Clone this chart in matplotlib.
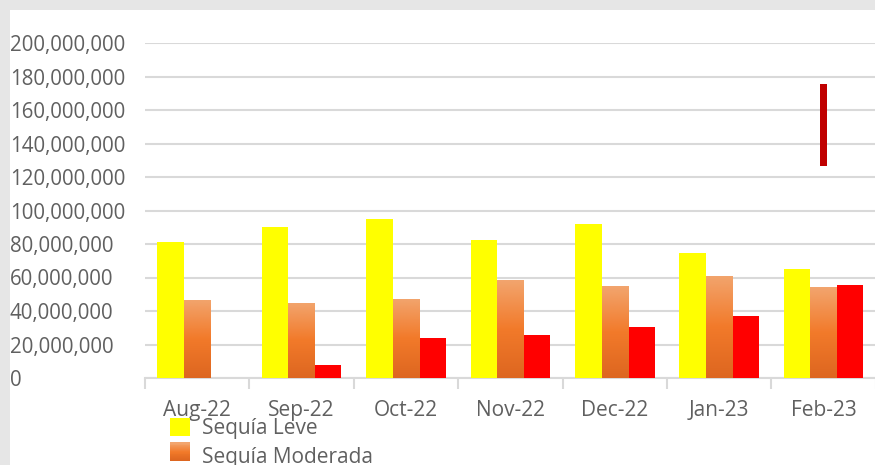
import matplotlib
matplotlib.use("Agg")
import matplotlib.pyplot as plt
import numpy as np
from matplotlib.colors import LinearSegmentedColormap
from matplotlib.patches import Rectangle
from matplotlib.legend_handler import HandlerBase
from matplotlib.ticker import FuncFormatter, FixedLocator

categories = ["Aug-22", "Sep-22", "Oct-22", "Nov-22", "Dec-22", "Jan-23", "Feb-23"]
leve = [81.2e6, 90.1e6, 94.9e6, 82.4e6, 91.9e6, 74.6e6, 65.1e6]
moderada = [46.6e6, 44.8e6, 47.2e6, 58.5e6, 54.9e6, 60.9e6, 54.3e6]
severa = [0, 7.8e6, 23.9e6, 25.7e6, 30.4e6, 37.0e6, 55.5e6]
# floating dark-red bar at Feb-23
extra_cat = "Feb-23"
extra_low = 126.6e6
extra_high = 175.5e6
legend_labels = ["Sequía Leve", "Sequía Moderada"]

plt.rcParams['font.family'] = ['Open Sans', 'DejaVu Sans']
TXT = '#606060'

fig = plt.figure(figsize=(8.75, 4.65), dpi=100, facecolor='#e6e6e6')
fig.patches.append(Rectangle((10/875, 0), 1, 1 - 10/465, transform=fig.transFigure,
                             facecolor='white', edgecolor='none', zorder=-10))

ax = fig.add_axes([145/875, 1 - 378/465, 1 - 145/875 + 0.001, (378 - 43)/465])
ax.set_facecolor('none')
ax.set_zorder(1)

x = np.arange(len(categories))
w = 0.254
cmap = LinearSegmentedColormap.from_list('og', ['#dd6620', '#f27a2a', '#f2a56e'])

ax.bar(x - w, leve, w, color='#ffff00', zorder=3)
mb = ax.bar(x, moderada, w, color='none', zorder=3)
ax.bar(x + w, severa, w, color='#ff0000', zorder=3)
grad = np.linspace(0, 1, 256).reshape(-1, 1)
for r in mb:
    x0, h = r.get_x(), r.get_height()
    im = ax.imshow(grad, extent=[x0, x0 + r.get_width(), 0, h], origin='lower',
                   aspect='auto', cmap=cmap, zorder=3)
    im.set_clip_path(r)

xi = categories.index(extra_cat)
ax.bar([xi], [extra_high - extra_low], 0.067, bottom=[extra_low], color='#c00000', zorder=3)

ax.set_xlim(-0.5, len(categories) - 0.5)
ax.set_ylim(0, 200e6)
ax.set_yticks(np.arange(0, 200e6 + 1, 20e6))
ax.yaxis.set_major_formatter(FuncFormatter(lambda v, p: f"{int(v):,}"))
ax.grid(axis='y', color='#d9d9d9', linewidth=1.5, zorder=0)
ax.set_axisbelow(True)
ax.set_xticks(x)
ax.set_xticklabels(categories)
ax.xaxis.set_minor_locator(FixedLocator(np.arange(-0.5, len(categories), 1.0)))
ax.tick_params(axis='x', which='major', length=0, pad=16, labelsize=15, labelcolor=TXT)
ax.tick_params(axis='x', which='minor', length=8, width=1.5, color='#d9d9d9')
ax.tick_params(axis='y', length=0, pad=(145 - 10) * 0.72, labelsize=14.8, labelcolor=TXT)
for lab in ax.get_yticklabels():
    lab.set_horizontalalignment('left')
for s in ['top', 'right', 'left']:
    ax.spines[s].set_visible(False)
ax.spines['bottom'].set_color('#d9d9d9')
ax.spines['bottom'].set_linewidth(1.5)


class GradHandler(HandlerBase):
    def create_artists(self, legend, orig_handle, xd, yd, width, height, fontsize, trans):
        arts = []
        n = 20
        for i in range(n):
            c = cmap(i / (n - 1))
            arts.append(Rectangle((xd, yd + height * i / n), width, height / n + 0.3,
                                  facecolor=c, edgecolor='none', transform=trans))
        return arts


h1 = Rectangle((0, 0), 1, 1, facecolor='#ffff00')
h2 = Rectangle((0, 0), 1, 1, facecolor='#f27a2a')
leg = fig.legend([h1, h2], legend_labels, loc='upper left',
                 bbox_to_anchor=(170/875, 1 - 418/465), frameon=False,
                 handler_map={h2: GradHandler()}, fontsize=15, labelcolor=TXT,
                 handlelength=0.95, handleheight=0.95, handletextpad=0.6,
                 labelspacing=0.35, borderaxespad=0, borderpad=0)

fig.savefig('out.png', dpi=100, facecolor=fig.get_facecolor())
